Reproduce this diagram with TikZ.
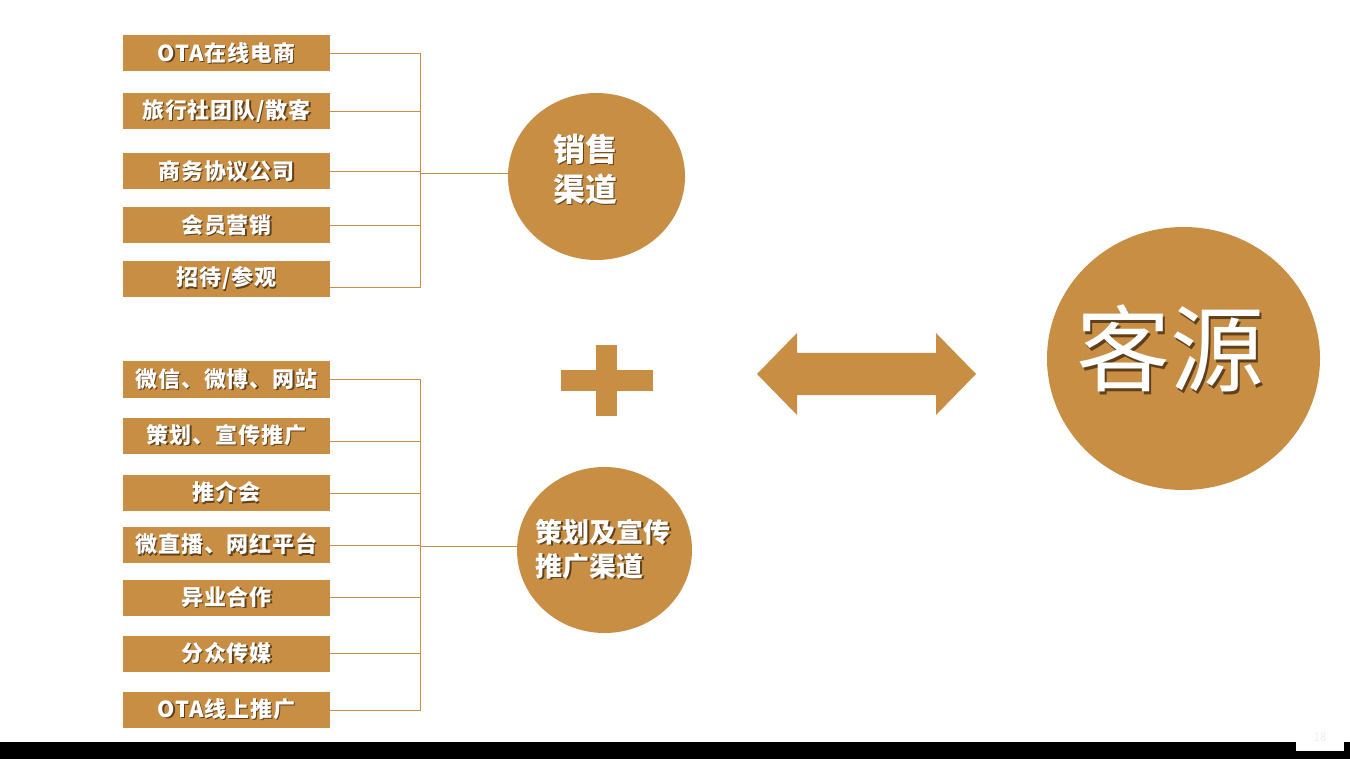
\documentclass[tikz,border=0pt]{standalone}
\usepackage{fontspec}
\newfontfamily\cjk{Noto Sans CJK SC}
\usepackage{tikz}
\usetikzlibrary{arrows.meta, shapes.geometric, calc, positioning}

\definecolor{gold}{RGB}{199,142,68}
\definecolor{goldshade}{RGB}{96,64,28}

% white text with a dark offset copy below it
\newcommand\shtxt[2][1.3pt]{\leavevmode\rlap{\kern#1\raisebox{-#1}{\textcolor{goldshade}{#2}}}#2}

\begin{document}
\begin{tikzpicture}[x=1pt,y=-1pt]

\tikzstyle{chan}=[fill=gold, text=white, inner sep=0pt, minimum width=207pt, minimum height=36pt, font=\cjk\bfseries\fontsize{22}{22}\selectfont\addfontfeature{LetterSpace=4}]
\tikzstyle{link}=[draw=gold, line width=0.8pt]
\tikzstyle{hub}=[ellipse, fill=gold, inner sep=0pt]
\tikzstyle{hubtext}=[text=white, align=left, inner sep=0pt]

% page
\fill[white] (0,0) rectangle (1350,759);
\fill[black] (0,742) rectangle (1350,759);
\fill[white] (1296,727) rectangle (1344,751);
\node[text=black!7, font=\sffamily\fontsize{13}{13}\selectfont] (pnum) at (1320,737) {18};

% sales channels
\node[chan] (s1) at (226.5,53.5) {\shtxt{OTA在线电商}};
\node[chan] (s2) at (226.5,111.5) {\shtxt{旅行社团队/散客}};
\node[chan] (s3) at (226.5,171.5) {\shtxt{商务协议公司}};
\node[chan] (s4) at (226.5,225.5) {\shtxt{会员营销}};
\node[chan] (s5) at (226.5,279) {\shtxt{招待/参观}};

\node[hub, minimum width=177pt, minimum height=167pt] (sales) at (596.5,176.5) {};
\node[hubtext, font=\cjk\bfseries\fontsize{32}{40}\selectfont] (salestext) at (585,170) {\shtxt[1.6pt]{销售}\\\shtxt[1.6pt]{渠道}};

\coordinate (sj) at (420,173);
\draw[link] (s1.east) -| (sj);
\draw[link] (s2.east) -| (sj);
\draw[link] (s3.east) -| (sj);
\draw[link] (s4.east) -| (sj);
\draw[link] ([yshift=-8pt]s5.east) -| (sj);
\draw[link] (sj) -- (sj -| sales.west);

% promotion channels
\node[chan] (p1) at (226.5,379.5) {\shtxt{微信、微博、网站}};
\node[chan] (p2) at (226.5,436) {\shtxt{策划、宣传推广}};
\node[chan] (p3) at (226.5,493) {\shtxt{推介会}};
\node[chan] (p4) at (226.5,545) {\shtxt{微直播、网红平台}};
\node[chan] (p5) at (226.5,597.5) {\shtxt{异业合作}};
\node[chan] (p6) at (226.5,653.5) {\shtxt{分众传媒}};
\node[chan] (p7) at (226.5,710) {\shtxt{OTA线上推广}};

\node[hub, minimum width=175pt, minimum height=166pt] (promo) at (604.5,550) {};
\node[hubtext, font=\cjk\bfseries\fontsize{27}{34}\selectfont] (promotext) at (603,550) {\shtxt[1.5pt]{策划及宣传}\\\shtxt[1.5pt]{推广渠道}};

\coordinate (pj) at (420,546);
\draw[link] (p1.east) -| (pj);
\draw[link] ([yshift=-5pt]p2.east) -| (pj);
\draw[link] (p3.east) -| (pj);
\draw[link] (p4.east) -| (pj);
\draw[link] (p5.east) -| (pj);
\draw[link] (p6.east) -| (pj);
\draw[link] (p7.east) -| (pj);
\draw[link] (pj) -- (pj -| promo.west);

% plus
\fill[gold] (561,370) rectangle (653,391);
\fill[gold] (596,345) rectangle (617,416);

% double arrow
\fill[gold] (757,374) -- (797,333) -- (797,353) -- (936,353) -- (936,333) -- (976,374)
  -- (936,415) -- (936,395) -- (797,395) -- (797,415) -- cycle;

% source
\node[hub, minimum width=273pt, minimum height=263pt] (src) at (1183.5,358.5) {};
\node[hubtext, font=\cjk\fontsize{94}{94}\selectfont] (srctext) at (1170,350) {\shtxt[2.5pt]{客源}};

\end{tikzpicture}
\end{document}
